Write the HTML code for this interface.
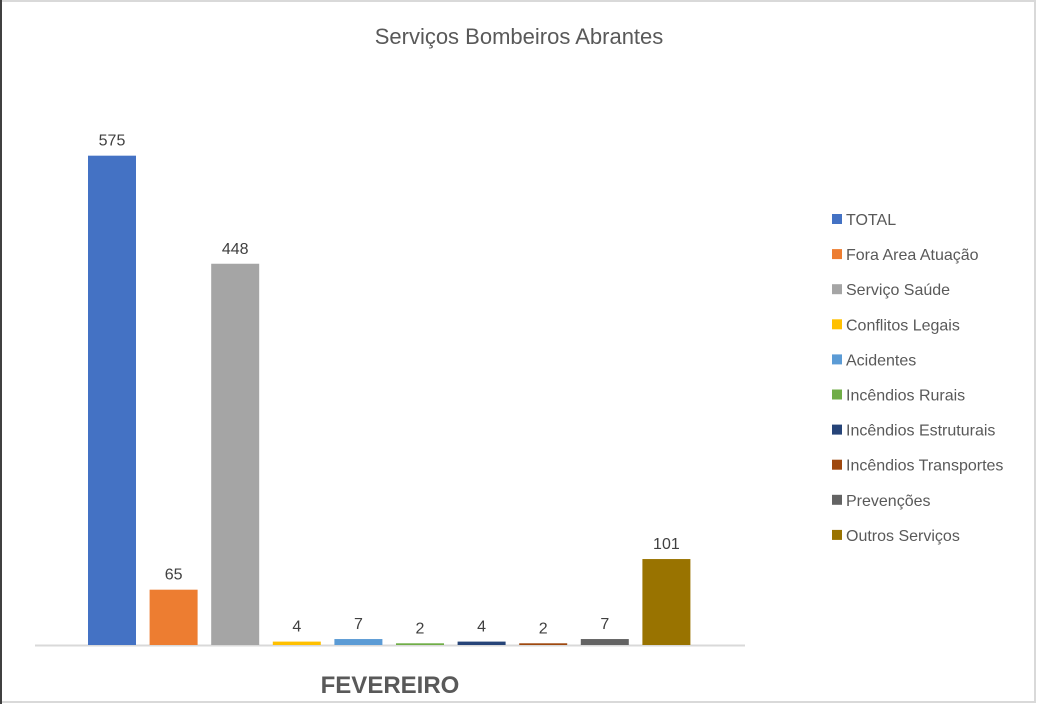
<!DOCTYPE html>
<html><head><meta charset="utf-8"><style>
html,body{margin:0;padding:0;background:#fff;}
#c{position:relative;width:1037px;height:704px;overflow:hidden;font-family:"Liberation Sans",sans-serif;}
</style></head><body>
<div id="c">
<svg id="s" width="1037" height="704">
<rect x="1" y="1" width="1034" height="701" fill="#fff" stroke="#d9d9d9" stroke-width="2"/>
<line x1="1" y1="0" x2="1" y2="704" stroke="#404040" stroke-width="2"/>
<text x="519" y="44" text-anchor="middle" font-size="22" fill="#595959">Serviços Bombeiros Abrantes</text>
<line x1="35" y1="645.5" x2="745" y2="645.5" stroke="#d9d9d9" stroke-width="2"/>
<text x="390" y="693" text-anchor="middle" font-size="24" font-weight="bold" fill="#595959">FEVEREIRO</text>
<g id="bars"></g><g id="legend"></g>
</svg>
</div>
<script>
const categories=["TOTAL","Fora Area Atuação","Serviço Saúde","Conflitos Legais","Acidentes","Incêndios Rurais","Incêndios Estruturais","Incêndios Transportes","Prevenções","Outros Serviços"];
const values=[575,65,448,4,7,2,4,2,7,101];
const colors=["#4472c4","#ed7d31","#a5a5a5","#ffc000","#5b9bd5","#70ad47","#264478","#9e480e","#636363","#997300"];
const NS="http://www.w3.org/2000/svg";
const baseY=645, scale=0.851, x0=88, step=61.6, bw=48;
const yPos=v=>baseY-v*scale;
const xPos=i=>x0+i*step;
const bars=document.getElementById('bars'), leg=document.getElementById('legend');
values.forEach((v,i)=>{
 const r=document.createElementNS(NS,'rect');
 r.setAttribute('x',xPos(i));r.setAttribute('y',yPos(v));r.setAttribute('width',bw);r.setAttribute('height',Math.max(v*scale,1));r.setAttribute('fill',colors[i]);
 
 
 bars.appendChild(r);
 const t=document.createElementNS(NS,'text');
 t.setAttribute('x',xPos(i)+bw/2);t.setAttribute('y',yPos(v)-10);t.setAttribute('text-anchor','middle');t.setAttribute('font-size','16');t.setAttribute('fill','#404040');
 t.textContent=v;
 
 
 bars.appendChild(t);
 const ly=220+i*35.1;
 const sq=document.createElementNS(NS,'rect');
 sq.setAttribute('x',832);sq.setAttribute('y',ly-6);sq.setAttribute('width',10);sq.setAttribute('height',10);sq.setAttribute('fill',colors[i]);
 
 
 leg.appendChild(sq);
 const lt=document.createElementNS(NS,'text');
 lt.setAttribute('x',846);lt.setAttribute('y',ly+5);lt.setAttribute('font-size','16');lt.setAttribute('fill','#595959');
 lt.textContent=categories[i];
 
 
 leg.appendChild(lt);
});
</script>
</body></html>
